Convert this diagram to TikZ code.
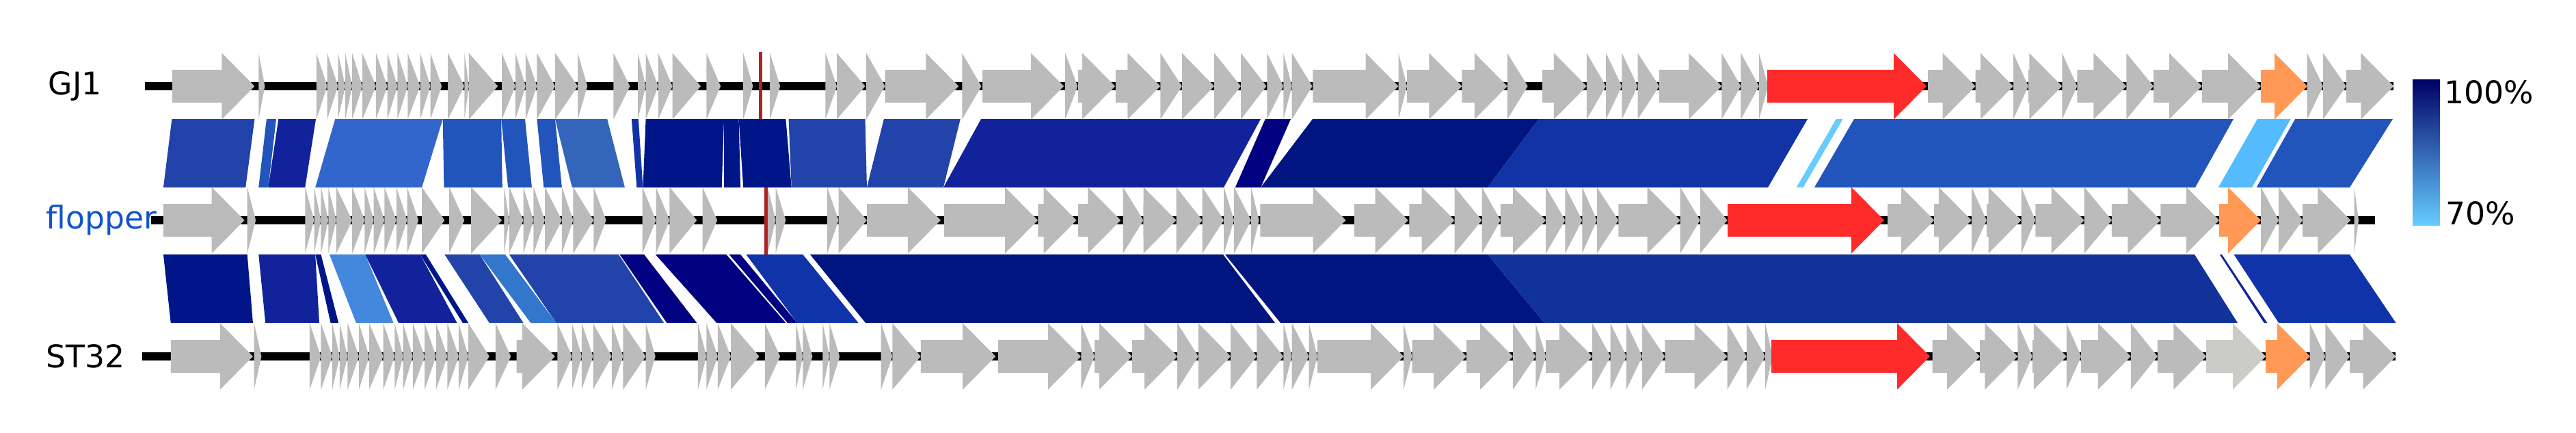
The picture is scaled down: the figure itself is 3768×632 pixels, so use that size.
\documentclass[tikz,border=0pt]{standalone}
\usepackage{fontspec}
\setmainfont{DejaVu Sans}
\definecolor{gene}{HTML}{BBBBBB}
\definecolor{genel}{HTML}{CBCBC8}
\definecolor{gred}{HTML}{FF2A2A}
\definecolor{gorange}{HTML}{FF9955}
\definecolor{cA}{HTML}{2244AA}
\definecolor{cB}{HTML}{2255BB}
\definecolor{cC}{HTML}{12229A}
\definecolor{cD}{HTML}{3366CC}
\definecolor{cE}{HTML}{3366BB}
\definecolor{cF}{HTML}{1133AA}
\definecolor{cG}{HTML}{001688}
\definecolor{cH}{HTML}{000080}
\definecolor{cI}{HTML}{001580}
\definecolor{cJ}{HTML}{1133A5}
\definecolor{cK}{HTML}{66CCFF}
\definecolor{cL}{HTML}{55BBFF}
\definecolor{cM}{HTML}{4488DD}
\definecolor{cN}{HTML}{3377CC}
\definecolor{cO}{HTML}{113399}
\definecolor{barTop}{HTML}{000066}
\definecolor{barBot}{HTML}{66CCFF}
\definecolor{flop}{HTML}{1155CC}
\definecolor{markred}{HTML}{B22222}
\newcommand\mkgene[4]{\pgfmathsetmacro\hx{max(#2,#3-48)}%
 \fill[#4] (#2,#1-24) -- (\hx,#1-24) -- (\hx,#1-48.5) -- (#3,#1) -- (\hx,#1+48.5) -- (\hx,#1+24) -- (#2,#1+24) -- cycle;}
\newcommand\mkgenes[4]{\foreach \a/\b in {#4}{\pgfmathsetmacro\ga{#2+\a/#3}\pgfmathsetmacro\gb{#2+\b/#3}\mkgene{#1}{\ga}{\gb}{gene}}}
\newcommand\mkblk[9]{\fill[#9] ({#1+#5/#2},#3) -- ({#1+#6/#2},#3) -- ({#1+#8/#2},#4) -- ({#1+#7/#2},#4) -- cycle;}
\tikzset{lab/.style={font=\fontsize{13}{15}\selectfont,anchor=west,inner sep=0pt},
 track/.style={line width=0.127cm}, marker/.style={draw=markred,line width=0.05cm}}
\begin{document}
\begin{tikzpicture}[x=0.01cm,y=-0.01cm]
\useasboundingbox (0,0) rectangle (3768,632);
% blocks GJ1-flopper
\def\T{174}\def\B{274}
\mkblk{200}{1.206}{\T}{\B}{62}{208}{47}{192}{cA}
\mkblk{200}{1.206}{\T}{\B}{229}{246}{215}{232}{cB}
\mkblk{200}{1.206}{\T}{\B}{250}{316}{232}{297}{cC}
\mkblk{200}{1.206}{\T}{\B}{350}{540}{315}{503}{cD}
\mkblk{200}{1.206}{\T}{\B}{540}{643}{542}{645}{cB}
\mkblk{200}{1.206}{\T}{\B}{643}{685}{655}{697}{cB}
\mkblk{200}{1.206}{\T}{\B}{706}{738}{718}{750}{cB}
\mkblk{200}{1.206}{\T}{\B}{738}{830}{768}{861}{cE}
\mkblk{200}{1.206}{\T}{\B}{873}{885}{882}{893}{cF}
\mkblk{200}{1.206}{\T}{\B}{898}{1036}{893}{1032}{cG}
\mkblk{200}{1.206}{\T}{\B}{1036}{1062}{1036}{1065}{cG}
\mkblk{200}{1.206}{\T}{\B}{1062}{1145}{1070}{1155}{cG}
\mkblk{200}{1.206}{\T}{\B}{1150}{1285}{1155}{1288}{cA}
\mkblk{200}{1.206}{\T}{\B}{1318}{1453}{1288}{1423}{cA}
\mkblk{0}{1}{\T}{\B}{1435}{1844}{1380}{1790}{cC}
\mkblk{1500}{1.206}{\T}{\B}{423}{468}{370}{415}{cH}
\mkblk{0}{1}{\T}{\B}{1920}{2251}{1844}{2176}{cI}
\mkblk{0}{1}{\T}{\B}{2251}{2644}{2176}{2586}{cJ}
\mkblk{1500}{1.206}{\T}{\B}{1430}{1442}{1360}{1372}{cK}
\mkblk{0}{1}{\T}{\B}{2712}{3267}{2654}{3211}{cB}
\mkblk{2750}{1.54}{\T}{\B}{850}{925}{762}{838}{cL}
\mkblk{2750}{1.54}{\T}{\B}{935}{1155}{848}{1058}{cB}
% blocks flopper-ST32
\def\T{372}\def\B{472}
\mkblk{200}{1.206}{\T}{\B}{47}{195}{60}{205}{cG}
\mkblk{200}{1.206}{\T}{\B}{215}{315}{227}{322}{cC}
\mkblk{200}{1.206}{\T}{\B}{315}{325}{342}{356}{cG}
\mkblk{200}{1.206}{\T}{\B}{340}{403}{387}{453}{cM}
\mkblk{200}{1.206}{\T}{\B}{403}{500}{462}{565}{cC}
\mkblk{200}{1.206}{\T}{\B}{500}{510}{575}{585}{cG}
\mkblk{200}{1.206}{\T}{\B}{543}{605}{622}{682}{cA}
\mkblk{200}{1.206}{\T}{\B}{605}{650}{695}{740}{cN}
\mkblk{200}{1.206}{\T}{\B}{657}{850}{740}{930}{cA}
\mkblk{200}{1.206}{\T}{\B}{852}{895}{935}{988}{cH}
\mkblk{200}{1.206}{\T}{\B}{915}{1040}{1023}{1145}{cH}
\mkblk{200}{1.206}{\T}{\B}{1045}{1065}{1148}{1165}{cH}
\mkblk{200}{1.206}{\T}{\B}{1075}{1175}{1165}{1273}{cF}
\mkblk{0}{1}{\T}{\B}{1185}{1789}{1266}{1865}{cI}
\mkblk{0}{1}{\T}{\B}{1792}{2176}{1873}{2259}{cI}
\mkblk{0}{1}{\T}{\B}{2176}{3210}{2259}{3273}{cO}
\mkblk{2750}{1.54}{\T}{\B}{765}{770}{865}{872}{cC}
\mkblk{2750}{1.54}{\T}{\B}{797}{1058}{898}{1162}{cF}
% tracks
\coordinate (g1s) at (212,126); \coordinate (g1e) at (3501,126);
\coordinate (f1s) at (221,322); \coordinate (f1e) at (3474,322);
\coordinate (s1s) at (208,521); \coordinate (s1e) at (3504,521);
\draw[track] (g1s) -- (g1e);
\draw[track] (f1s) -- (f1e);
\draw[track] (s1s) -- (s1e);
% GJ1 genes
\mkgenes{126}{200}{1.206}{63/208,215/226,317/336,336/355,355/368,368/380,380/398,398/422,422/442,442/460,460/478,478/500,500/518,518/538,549/578,578/586,586/637,644/668,668/686,686/706,706/738,738/778,778/795,841/870,884/898,898/920,920/945,945/995,1005/1030,1070/1087,1117/1135,1215/1235,1235/1285,1287/1320,1320/1450,1456/1490}
\mkgene{126}{1437}{1556}{gene}
\mkgenes{126}{1500}{1.206}{70/92,93/158,159/238,238/276,276/333,333/380,380/425,426/455,455/470,470/506,507/658,658/673,673/770,770/850,850/886,912/990,990/1024,1024/1052,1052/1080,1080/1118,1118/1228,1228/1262,1262/1294,1294/1310}
\mkgene{126}{2585}{2818}{gred}
\mkgenes{126}{2750}{1.54}{108/215,215/300,300/334,334/410,410/444,444/555,555/616,616/725,725/858,962/998,998/1050,1050/1157}
\mkgene{126}{3307}{3375}{gorange}
% flopper genes
\mkgenes{322}{200}{1.206}{47/190,195/210,297/313,313/325,325/338,338/352,352/380,380/402,402/418,418/437,437/458,458/477,477/497,503/543,551/578,590/644,648/657,657/682,682/700,700/720,720/750,750/770,770/806,806/828,892/916,916/940,940/988,998/1024,1113/1127,1127/1145,1218/1238,1238/1288,1288/1418}
\mkgene{322}{1381}{1518}{gene}
\mkgenes{322}{1500}{1.206}{22/90,93/168,172/208,208/266,266/312,312/350,350/368,368/398,398/412,414/565,580/675,677/757,757/805,805/838,838/918,918/952,952/982,982/1008,1008/1046,1046/1155,1155/1190,1190/1238}
\mkgene{322}{2527}{2756}{gred}
\mkgenes{322}{2750}{1.54}{17/122,122/206,206/240,240/318,318/350,350/460,460/522,522/632,632/764,858/898,898/952,952/1060,1068/1078}
\mkgene{322}{3246}{3307}{gorange}
% ST32 genes
\mkgenes{521}{200}{1.206}{60/205,207/220,305/325,325/345,345/358,358/372,372/392,392/410,410/435,435/455,455/470,470/487,487/508,508/528,528/548,548/568,568/585,585/622,633/660,670/738,742/768,768/785,785/805,805/838,838/858,858/898,898/915,990/1005,1005/1025,1025/1048,1048/1098,1108/1135,1163/1175,1175/1192,1210/1222,1222/1240,1313/1333,1333/1383,1383/1515}
\mkgene{521}{1460}{1581}{gene}
\mkgenes{521}{1500}{1.206}{98/122,122/188,188/268,268/305,305/362,362/408,408/455,455/470,470/500,500/515,515/667,667/682,682/778,778/860,860/900,900/918,918/1000,1000/1032,1032/1060,1060/1088,1088/1128,1128/1238,1238/1272,1272/1305,1305/1318}
\mkgene{521}{2591}{2823}{gred}
\mkgenes{521}{2750}{1.54}{118/225,225/310,310/343,343/420,420/453,453/565,565/625,625/735,968/1003,1003/1058,1058/1162}
\mkgene{521}{3227}{3314}{genel}
\mkgene{521}{3314}{3379}{gorange}
% markers
\coordinate (m1a) at (1112,76); \coordinate (m1b) at (1112,174);
\coordinate (m2a) at (1120,274); \coordinate (m2b) at (1120,372);
\draw[marker] (m1a) -- (m1b);
\draw[marker] (m2a) -- (m2b);
% labels
\node[lab] (lg) at (70,126) {GJ1};
\node[lab,text=flop] (lf) at (67,322) {flopper};
\node[lab] (ls) at (67,521) {ST32};
% colorbar
\shade[top color=barTop,bottom color=barBot] (3529,116) rectangle (3569,329);
\node[lab] (l100) at (3575,135) {100\%};
\node[lab] (l70) at (3577,312) {70\%};
\end{tikzpicture}
\end{document}
